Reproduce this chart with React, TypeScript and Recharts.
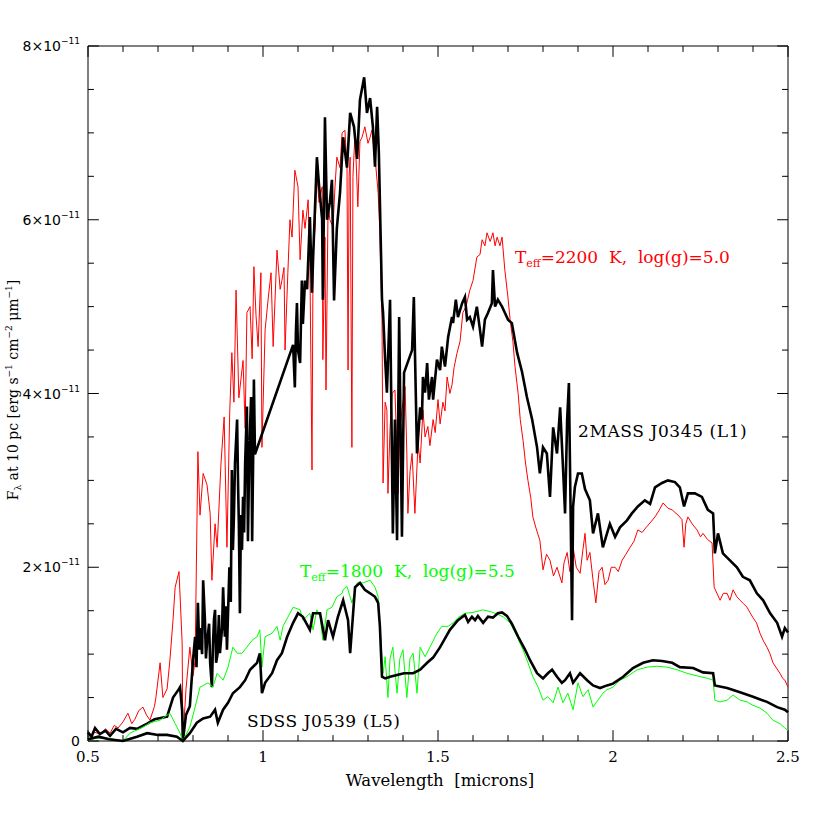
import React from "react";
import { LineChart, Line, XAxis, YAxis, ReferenceLine, Customized } from "recharts";

// wavelength [micron], flux [10^-11 erg s^-1 cm^-2 um^-1]
type Pt = [number, number];

const model2200: Pt[] = [
  [0.500, 0.05], [0.520, 0.10], [0.534, 0.08], [0.550, 0.14], [0.563, 0.09], [0.575, 0.18], [0.586, 0.15],
  [0.600, 0.22], [0.614, 0.32], [0.625, 0.20], [0.634, 0.25], [0.645, 0.35], [0.657, 0.39], [0.667, 0.30],
  [0.677, 0.24], [0.690, 0.40], [0.694, 0.50], [0.706, 0.90], [0.714, 0.50], [0.726, 0.60], [0.734, 0.93],
  [0.743, 1.40], [0.749, 1.77], [0.760, 1.95], [0.769, 1.13], [0.771, 0.00], [0.780, 0.60], [0.791, 1.08],
  [0.800, 0.75], [0.806, 0.93], [0.814, 3.33], [0.820, 2.60], [0.829, 3.08], [0.840, 2.95], [0.849, 2.62],
  [0.854, 1.85], [0.863, 2.50], [0.869, 2.23], [0.880, 3.20], [0.889, 3.73], [0.897, 2.23], [0.905, 3.80],
  [0.911, 4.47], [0.917, 3.90], [0.923, 5.19], [0.931, 3.95], [0.943, 4.38], [0.949, 3.60], [0.954, 4.93],
  [0.963, 5.00], [0.969, 4.40], [0.974, 5.46], [0.980, 4.90], [0.986, 4.54], [0.994, 5.39], [0.997, 3.38],
  [1.006, 4.73], [1.015, 5.10], [1.023, 5.39], [1.029, 4.54], [1.040, 5.65], [1.049, 5.20], [1.054, 5.30],
  [1.060, 5.45], [1.063, 4.50], [1.071, 5.39], [1.077, 6.00], [1.083, 5.80], [1.091, 6.57], [1.100, 6.38],
  [1.106, 5.54], [1.114, 6.11], [1.120, 5.90], [1.129, 6.23], [1.134, 5.50], [1.140, 3.12], [1.143, 5.60],
  [1.149, 5.92], [1.154, 6.54], [1.160, 6.20], [1.169, 6.38], [1.171, 4.39], [1.177, 5.80], [1.180, 4.04],
  [1.186, 6.19], [1.191, 6.00], [1.200, 5.92], [1.206, 6.40], [1.211, 6.72], [1.220, 6.60], [1.226, 7.00],
  [1.234, 7.03], [1.240, 6.60], [1.243, 4.27], [1.246, 6.50], [1.249, 6.72], [1.254, 3.38], [1.257, 6.50],
  [1.263, 7.00], [1.271, 6.15], [1.277, 6.90], [1.283, 6.95], [1.291, 7.07], [1.300, 6.88], [1.306, 6.95],
  [1.311, 7.03], [1.320, 6.72], [1.329, 6.31], [1.334, 5.85], [1.340, 4.85], [1.343, 2.97], [1.349, 3.90],
  [1.354, 3.81], [1.357, 2.85], [1.363, 3.60], [1.369, 4.00], [1.377, 4.04], [1.383, 3.30], [1.386, 2.85],
  [1.391, 3.60], [1.397, 3.81], [1.406, 4.08], [1.411, 3.30], [1.414, 2.62], [1.420, 3.10], [1.426, 3.31],
  [1.434, 2.62], [1.443, 3.43], [1.449, 3.20], [1.457, 3.81], [1.463, 3.50], [1.471, 3.62], [1.477, 3.40],
  [1.486, 3.70], [1.492, 3.55], [1.500, 3.93], [1.506, 3.65], [1.514, 3.90], [1.520, 3.80], [1.526, 4.19],
  [1.534, 4.00], [1.540, 4.10], [1.546, 4.30], [1.554, 4.46], [1.563, 4.60], [1.571, 4.93], [1.580, 5.00],
  [1.591, 5.19], [1.600, 5.30], [1.611, 5.57], [1.620, 5.60], [1.626, 5.77], [1.634, 5.70], [1.640, 5.85],
  [1.649, 5.75], [1.657, 5.85], [1.663, 5.70], [1.669, 5.80], [1.677, 5.70], [1.683, 5.80], [1.691, 5.42],
  [1.700, 5.10], [1.706, 4.85], [1.714, 4.60], [1.720, 4.31], [1.729, 4.00], [1.735, 3.70], [1.743, 3.46],
  [1.750, 3.20], [1.757, 3.00], [1.765, 2.80], [1.771, 2.58], [1.780, 2.45], [1.791, 2.31], [1.800, 1.97],
  [1.810, 2.15], [1.820, 2.08], [1.830, 1.90], [1.840, 2.00], [1.854, 1.82], [1.860, 2.05], [1.869, 2.17],
  [1.877, 1.95], [1.886, 2.23], [1.895, 2.00], [1.906, 1.93], [1.914, 2.20], [1.920, 2.39], [1.926, 2.08],
  [1.934, 2.17], [1.943, 1.85], [1.951, 1.59], [1.960, 1.95], [1.969, 2.00], [1.977, 1.80], [1.986, 1.85],
  [1.995, 2.00], [2.006, 2.00], [2.015, 1.95], [2.026, 2.08], [2.037, 2.15], [2.049, 2.23], [2.060, 2.30],
  [2.071, 2.43], [2.083, 2.40], [2.097, 2.47], [2.108, 2.52], [2.120, 2.58], [2.131, 2.65], [2.143, 2.74],
  [2.157, 2.68], [2.169, 2.66], [2.180, 2.62], [2.186, 2.60], [2.197, 2.55], [2.203, 2.23], [2.208, 2.50],
  [2.214, 2.58], [2.226, 2.50], [2.240, 2.43], [2.250, 2.35], [2.257, 2.39], [2.270, 2.32], [2.283, 2.28],
  [2.289, 1.77], [2.306, 1.62], [2.315, 1.70], [2.326, 1.70], [2.334, 1.62], [2.343, 1.74], [2.354, 1.66],
  [2.363, 1.62], [2.373, 1.58], [2.383, 1.54], [2.391, 1.48], [2.400, 1.42], [2.410, 1.36], [2.420, 1.24],
  [2.430, 1.15], [2.440, 1.08], [2.449, 1.00], [2.457, 0.90], [2.467, 0.84], [2.477, 0.78], [2.485, 0.72],
  [2.491, 0.70], [2.500, 0.62],
];

const j0345: Pt[] = [
  [0.500, 0.10], [0.510, 0.05], [0.520, 0.15], [0.534, 0.08], [0.550, 0.12], [0.563, 0.06], [0.580, 0.14],
  [0.600, 0.10], [0.620, 0.15], [0.640, 0.14], [0.669, 0.20], [0.690, 0.25], [0.726, 0.28], [0.743, 0.50],
  [0.760, 0.60], [0.763, 0.62], [0.769, 0.35], [0.771, 0.00], [0.780, 0.30], [0.791, 0.40], [0.800, 0.93],
  [0.806, 1.20], [0.810, 0.85], [0.814, 1.59], [0.818, 1.05], [0.820, 1.30], [0.826, 1.00], [0.829, 1.85],
  [0.834, 1.40], [0.837, 0.95], [0.840, 1.13], [0.846, 1.35], [0.849, 0.90], [0.854, 0.62], [0.857, 1.10],
  [0.860, 1.40], [0.863, 1.51], [0.866, 0.90], [0.870, 1.00], [0.874, 1.45], [0.877, 1.01], [0.883, 1.30],
  [0.886, 1.77], [0.891, 1.20], [0.894, 1.55], [0.897, 1.05], [0.904, 2.00], [0.908, 1.60], [0.911, 3.12],
  [0.914, 2.20], [0.917, 2.60], [0.920, 3.20], [0.926, 3.70], [0.929, 2.90], [0.931, 2.50], [0.934, 1.47],
  [0.937, 2.60], [0.940, 2.20], [0.943, 2.81], [0.946, 2.40], [0.949, 3.20], [0.954, 3.85], [0.957, 2.30],
  [0.960, 3.10], [0.963, 3.60], [0.966, 3.96], [0.969, 2.30], [0.972, 3.30], [0.974, 4.16], [0.977, 3.30],
  [1.086, 4.56], [1.091, 4.07], [1.094, 4.70], [1.097, 5.04], [1.100, 4.50], [1.106, 4.35], [1.111, 5.30],
  [1.114, 4.80], [1.120, 5.30], [1.126, 5.20], [1.134, 6.03], [1.140, 5.16], [1.143, 5.54], [1.154, 6.72],
  [1.160, 6.40], [1.169, 6.00], [1.171, 5.08], [1.177, 7.18], [1.183, 6.00], [1.191, 6.20], [1.197, 6.46],
  [1.203, 5.07], [1.211, 5.90], [1.220, 6.31], [1.229, 6.95], [1.240, 6.60], [1.249, 7.23], [1.260, 7.07],
  [1.269, 6.70], [1.277, 7.38], [1.289, 7.64], [1.297, 7.23], [1.306, 7.40], [1.314, 7.07], [1.320, 6.61],
  [1.326, 7.30], [1.331, 6.77], [1.340, 5.08], [1.343, 4.93], [1.349, 4.39], [1.354, 4.01], [1.363, 5.08],
  [1.371, 2.39], [1.377, 3.70], [1.383, 2.31], [1.389, 4.88], [1.397, 2.35], [1.403, 4.24], [1.426, 4.50],
  [1.431, 5.11], [1.440, 3.31], [1.449, 3.84], [1.454, 3.70], [1.457, 4.19], [1.463, 4.01], [1.469, 4.35],
  [1.474, 3.93], [1.483, 4.19], [1.486, 3.93], [1.497, 4.39], [1.506, 4.27], [1.511, 4.54], [1.520, 4.31],
  [1.529, 4.65], [1.540, 4.88], [1.543, 4.81], [1.551, 5.08], [1.557, 4.88], [1.569, 5.04], [1.577, 5.11],
  [1.583, 4.85], [1.591, 4.88], [1.600, 4.77], [1.611, 5.00], [1.620, 4.73], [1.626, 4.54], [1.634, 4.85],
  [1.643, 4.93], [1.654, 5.04], [1.657, 5.42], [1.663, 5.00], [1.671, 5.08], [1.683, 5.00], [1.691, 4.93],
  [1.700, 4.85], [1.711, 4.81], [1.726, 4.47], [1.740, 4.25], [1.754, 3.96], [1.769, 3.70],
  [1.783, 3.38], [1.791, 3.08], [1.800, 3.38], [1.811, 3.31], [1.820, 2.81], [1.829, 3.61], [1.840, 3.31],
  [1.849, 3.84], [1.857, 3.16], [1.863, 2.62], [1.869, 3.70], [1.874, 4.12], [1.883, 1.39], [1.886, 2.70],
  [1.891, 2.92], [1.900, 3.08], [1.911, 3.08], [1.920, 2.90], [1.934, 2.77], [1.943, 2.39], [1.957, 2.62],
  [1.971, 2.23], [1.991, 2.50], [2.006, 2.35], [2.020, 2.46], [2.040, 2.54], [2.054, 2.62], [2.071, 2.70],
  [2.091, 2.77], [2.106, 2.73], [2.120, 2.92], [2.140, 2.97], [2.157, 3.00], [2.177, 2.98], [2.191, 2.92],
  [2.203, 2.70], [2.214, 2.85], [2.234, 2.85], [2.254, 2.81], [2.271, 2.66], [2.286, 2.62], [2.291, 2.16],
  [2.300, 2.39], [2.314, 2.16], [2.334, 2.08], [2.354, 2.00], [2.371, 1.89], [2.391, 1.85], [2.411, 1.70],
  [2.429, 1.62], [2.449, 1.47], [2.469, 1.36], [2.483, 1.20], [2.491, 1.30], [2.500, 1.25],
];

const model1800: Pt[] = [
  [0.500, 0.00], [0.520, 0.03], [0.563, 0.03], [0.600, 0.00], [0.620, 0.09], [0.657, 0.16], [0.677, 0.21],
  [0.706, 0.24], [0.734, 0.32], [0.749, 0.20], [0.763, 0.09], [0.771, 0.00], [0.791, 0.16], [0.806, 0.39],
  [0.820, 0.62], [0.843, 0.67], [0.857, 0.62], [0.869, 0.78], [0.886, 0.70], [0.900, 0.85], [0.914, 1.08],
  [0.926, 1.01], [0.940, 1.01], [0.954, 1.08], [0.969, 1.16], [0.983, 1.20], [0.991, 1.28], [0.997, 0.85],
  [1.006, 1.20], [1.026, 1.24], [1.040, 1.32], [1.049, 1.16], [1.057, 1.32], [1.077, 1.47], [1.086, 1.54],
  [1.106, 1.51], [1.114, 1.39], [1.134, 1.47], [1.143, 1.28], [1.154, 1.51], [1.163, 1.43], [1.171, 1.16],
  [1.183, 1.51], [1.197, 1.54], [1.211, 1.66], [1.226, 1.70], [1.229, 1.74], [1.240, 1.78], [1.254, 1.59],
  [1.269, 1.82], [1.286, 1.82], [1.306, 1.85], [1.320, 1.77], [1.329, 1.66], [1.334, 1.32], [1.343, 0.78],
  [1.349, 0.97], [1.357, 0.50], [1.363, 0.95], [1.371, 1.08], [1.383, 0.55], [1.391, 0.95], [1.400, 1.05],
  [1.411, 0.50], [1.420, 0.95], [1.429, 1.01], [1.440, 0.55], [1.449, 1.08], [1.463, 0.97], [1.477, 1.08],
  [1.497, 1.24], [1.511, 1.32], [1.529, 1.32], [1.543, 1.36], [1.557, 1.42], [1.577, 1.47], [1.600, 1.48],
  [1.629, 1.51], [1.657, 1.48], [1.686, 1.43], [1.706, 1.36], [1.726, 1.20], [1.743, 1.05], [1.757, 0.90],
  [1.771, 0.74], [1.786, 0.62], [1.800, 0.47], [1.814, 0.51], [1.829, 0.44], [1.843, 0.62], [1.857, 0.44],
  [1.871, 0.55], [1.886, 0.36], [1.900, 0.67], [1.914, 0.51], [1.929, 0.59], [1.943, 0.39], [1.957, 0.47],
  [1.971, 0.55], [1.983, 0.59], [2.000, 0.62], [2.020, 0.70], [2.040, 0.74], [2.069, 0.82], [2.097, 0.85],
  [2.126, 0.86], [2.154, 0.85], [2.183, 0.82], [2.211, 0.78], [2.240, 0.75], [2.271, 0.72], [2.286, 0.70],
  [2.291, 0.47], [2.306, 0.45], [2.326, 0.47], [2.343, 0.53], [2.363, 0.47], [2.383, 0.45], [2.400, 0.41],
  [2.420, 0.38], [2.440, 0.32], [2.457, 0.24], [2.477, 0.20], [2.491, 0.15], [2.500, 0.12],
];

const j0539: Pt[] = [
  [0.500, 0.02], [0.530, 0.05], [0.560, 0.02], [0.600, 0.00], [0.640, 0.05], [0.669, 0.09], [0.700, 0.07],
  [0.726, 0.07], [0.754, 0.05], [0.771, 0.00], [0.791, 0.09], [0.811, 0.21], [0.829, 0.26], [0.849, 0.28],
  [0.863, 0.36], [0.871, 0.21], [0.886, 0.36], [0.900, 0.44], [0.914, 0.55], [0.934, 0.62], [0.949, 0.70],
  [0.963, 0.82], [0.983, 0.90], [0.991, 1.01], [0.997, 0.55], [1.006, 0.67], [1.026, 0.78], [1.040, 0.93],
  [1.054, 1.01], [1.069, 1.20], [1.086, 1.36], [1.100, 1.47], [1.114, 1.43], [1.134, 1.28], [1.143, 1.47],
  [1.163, 1.47], [1.177, 1.16], [1.186, 1.39], [1.200, 1.20], [1.214, 1.43], [1.229, 1.62], [1.243, 1.39],
  [1.249, 1.01], [1.263, 1.77], [1.277, 1.82], [1.291, 1.74], [1.306, 1.70], [1.320, 1.66], [1.329, 1.59],
  [1.334, 1.32], [1.340, 0.74], [1.349, 0.72], [1.363, 0.74], [1.383, 0.76], [1.403, 0.78], [1.429, 0.78],
  [1.449, 0.82], [1.469, 0.90], [1.486, 0.96], [1.506, 1.08], [1.534, 1.28], [1.557, 1.39], [1.577, 1.45],
  [1.586, 1.37], [1.597, 1.43], [1.606, 1.39], [1.614, 1.44], [1.629, 1.36], [1.643, 1.43], [1.657, 1.42],
  [1.671, 1.47], [1.683, 1.48], [1.697, 1.44],
  [1.711, 1.35], [1.729, 1.20], [1.749, 1.05], [1.763, 0.93], [1.783, 0.78], [1.800, 0.72], [1.814, 0.78],
  [1.826, 0.82], [1.840, 0.74], [1.854, 0.67], [1.863, 0.70], [1.877, 0.78], [1.886, 0.67], [1.906, 0.78],
  [1.926, 0.70], [1.943, 0.64], [1.963, 0.61], [1.983, 0.64], [2.000, 0.66], [2.029, 0.74], [2.057, 0.84],
  [2.086, 0.90], [2.114, 0.93], [2.140, 0.92], [2.169, 0.90], [2.191, 0.85], [2.229, 0.84], [2.257, 0.79],
  [2.286, 0.78], [2.291, 0.64], [2.326, 0.61], [2.363, 0.56], [2.400, 0.51], [2.440, 0.45], [2.469, 0.39],
  [2.491, 0.36], [2.500, 0.33],
];

const xTicks = [
  0.5, 0.6, 0.7, 0.8, 0.9, 1, 1.1, 1.2, 1.3, 1.4, 1.5, 1.6, 1.7, 1.8, 1.9, 2, 2.1, 2.2, 2.3, 2.4, 2.5,
];
const xMajor = [0.5, 1, 1.5, 2, 2.5];
const yTicks = [0, 0.5, 1, 1.5, 2, 2.5, 3, 3.5, 4, 4.5, 5, 5.5, 6, 6.5, 7, 7.5, 8];
const yMajor = [0, 2, 4, 6, 8];

const X_MIN = 0.5;
const X_MAX = 2.5;
const Y_MIN = 0;
const Y_MAX = 8;
// tick lengths in data units (about 11px major, 6px minor)
const TICK_X = { major: 0.031, minor: 0.017 };
const TICK_Y = { major: 0.125, minor: 0.068 };

const serif = "'DejaVu Serif', serif";
const sans = "'DejaVu Sans', sans-serif";

const rows = (pts: Pt[]) => pts.map(([w, f]) => ({ w, f }));
const isMajor = (list: number[], v: number) => list.some((m) => Math.abs(m - v) < 1e-6);

const XTickLabel = (props: any) => {
  const { x, y, payload } = props;
  if (!isMajor(xMajor, payload.value)) return <g />;
  return (
    <text x={x} y={y + 21} textAnchor="middle" fontFamily={serif} fontSize={15} fill="#000">
      {String(payload.value)}
    </text>
  );
};

const YTickLabel = (props: any) => {
  const { x, y, payload } = props;
  if (!isMajor(yMajor, payload.value)) return <g />;
  return (
    <text x={x - 8} y={y + 5} textAnchor="end" fontFamily={sans} fontSize={14} fill="#000">
      {payload.value === 0 ? (
        "0"
      ) : (
        <>
          {`${payload.value}×10`}
          <tspan fontSize={9} dy={-7}>
            −11
          </tspan>
        </>
      )}
    </text>
  );
};

const Teff = ({ x, y, color, text }: { x: number; y: number; color: string; text: string }) => (
  <text x={x} y={y} fontFamily={serif} fontSize={17} fill={color} style={{ whiteSpace: "pre" }}>
    T
    <tspan fontSize={11} dy={4}>
      eff
    </tspan>
    <tspan dy={-4}>{text}</tspan>
  </text>
);

const Annotations = () => (
  <g>
    <Teff x={515} y={263} color="#ff0000" text="=2200  K,  log(g)=5.0" />
    <Teff x={300} y={577} color="#00ff00" text="=1800  K,  log(g)=5.5" />
    <text x={578} y={437} fontFamily={serif} fontSize={17} letterSpacing={0.6} fill="#000" style={{ whiteSpace: "pre" }}>
      2MASS J0345 (L1)
    </text>
    <text x={247} y={727} fontFamily={serif} fontSize={17} letterSpacing={0.6} fill="#000" style={{ whiteSpace: "pre" }}>
      SDSS J0539 (L5)
    </text>
    <text x={440} y={786} textAnchor="middle" fontFamily={serif} fontSize={16.5} fill="#000" style={{ whiteSpace: "pre" }}>
      Wavelength  [microns]
    </text>
    <text transform="translate(18, 390) rotate(-90)" textAnchor="middle" fontFamily={serif} fontSize={14} fill="#000">
      F
      <tspan fontSize={9} dy={3}>λ</tspan>
      <tspan dy={-3}> at 10 pc [erg s</tspan>
      <tspan fontSize={9} dy={-6}>−1</tspan>
      <tspan dy={6}> cm</tspan>
      <tspan fontSize={9} dy={-6}>−2</tspan>
      <tspan dy={6}> μm</tspan>
      <tspan fontSize={9} dy={-6}>−1</tspan>
      <tspan dy={6}>]</tspan>
    </text>
  </g>
);

const tickSeg = (a: { x: number; y: number }, b: { x: number; y: number }, key: string) => (
  <ReferenceLine
    key={key}
    xAxisId="b"
    yAxisId="l"
    segment={[a, b]}
    stroke="#000"
    strokeWidth={1}
    ifOverflow="visible"
  />
);

export default function App() {
  const xTickMarks = xTicks.flatMap((v) => {
    const len = isMajor(xMajor, v) ? TICK_Y.major : TICK_Y.minor;
    return [
      tickSeg({ x: v, y: Y_MIN }, { x: v, y: Y_MIN + len }, `xb${v}`),
      tickSeg({ x: v, y: Y_MAX }, { x: v, y: Y_MAX - len }, `xt${v}`),
    ];
  });
  const yTickMarks = yTicks.flatMap((v) => {
    const len = isMajor(yMajor, v) ? TICK_X.major : TICK_X.minor;
    return [
      tickSeg({ x: X_MIN, y: v }, { x: X_MIN + len, y: v }, `yl${v}`),
      tickSeg({ x: X_MAX, y: v }, { x: X_MAX - len, y: v }, `yr${v}`),
    ];
  });

  return (
    <div style={{ position: "absolute", left: 0, top: 0, background: "#fff" }}>
      <LineChart width={830} height={830} margin={{ top: 46, right: 42, bottom: 49, left: 8 }}>
        <XAxis
          xAxisId="b"
          type="number"
          dataKey="w"
          domain={[X_MIN, X_MAX]}
          ticks={xTicks}
          interval={0}
          height={40}
          tickSize={0}
          tickMargin={0}
          tickLine={false}
          axisLine={{ stroke: "#000" }}
          tick={XTickLabel}
        />
        <YAxis
          yAxisId="l"
          type="number"
          domain={[Y_MIN, Y_MAX]}
          ticks={yTicks}
          interval={0}
          width={80}
          tickSize={0}
          tickMargin={0}
          tickLine={false}
          axisLine={{ stroke: "#000" }}
          tick={YTickLabel}
        />
        {xTickMarks}
        {yTickMarks}
        <ReferenceLine xAxisId="b" yAxisId="l" x={X_MAX} stroke="#000" strokeWidth={1} />
        <ReferenceLine xAxisId="b" yAxisId="l" y={Y_MAX} stroke="#000" strokeWidth={1} />
        <Line xAxisId="b" yAxisId="l" data={rows(model2200)} dataKey="f" type="linear" stroke="#ff0000" strokeWidth={1} dot={false} isAnimationActive={false} />
        <Line xAxisId="b" yAxisId="l" data={rows(j0345)} dataKey="f" type="linear" stroke="#000" strokeWidth={2.6} dot={false} isAnimationActive={false} />
        <Line xAxisId="b" yAxisId="l" data={rows(model1800)} dataKey="f" type="linear" stroke="#00ff00" strokeWidth={1} dot={false} isAnimationActive={false} />
        <Line xAxisId="b" yAxisId="l" data={rows(j0539)} dataKey="f" type="linear" stroke="#000" strokeWidth={2.6} dot={false} isAnimationActive={false} />
        <Customized component={Annotations} />
      </LineChart>
    </div>
  );
}
